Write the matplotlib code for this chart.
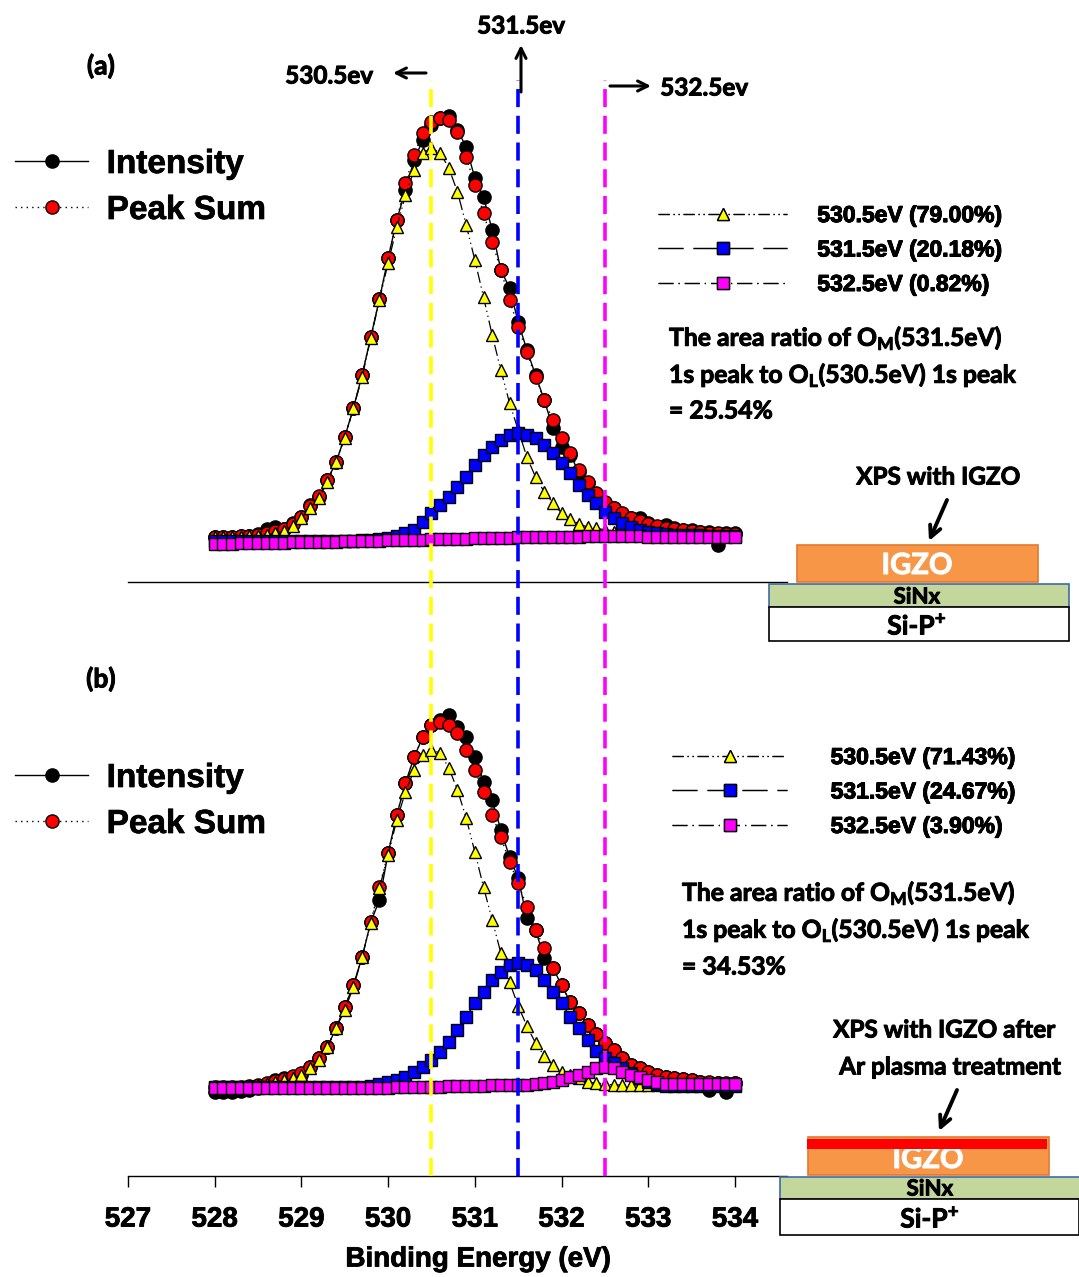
import os
import numpy as np
import matplotlib
matplotlib.use("Agg")
import matplotlib.pyplot as plt
from matplotlib.lines import Line2D
from matplotlib.patches import Rectangle
from matplotlib.font_manager import FontProperties, fontManager
from matplotlib.transforms import blended_transform_factory
import matplotlib.patheffects as pe

# ---------------- data ----------------
energy = np.round(np.linspace(528.0, 534.0, 61), 1)
peak_positions = [530.5, 531.5, 532.5]
peak_colors = ["#FFFF00", "#0000FF", "#FF00FF"]
xticks = [527, 528, 529, 530, 531, 532, 533, 534]

# panel (a): IGZO
int_a = [45, 45, 45, 46, 46, 48, 53, 55, 53, 59, 65, 77, 85, 102, 120, 145, 174, 207, 245, 283,
         324, 362, 392, 422, 442, 457, 464, 466, 452, 435, 404, 385, 352, 312, 294, 260, 232, 207, 182, 154,
         135, 127, 110, 99, 88, 79, 74, 68, 64, 64, 59, 55, 57, 54, 52, 52, 50, 50, 37, 49, 49]
sum_a = [45, 45, 45, 46, 46, 47, 49, 51, 53, 58, 65, 76, 86, 102, 120, 145, 174, 207, 245, 283,
         324, 362, 399, 427, 449, 460, 464, 462, 450, 425, 397, 369, 340, 312, 282, 255, 230, 205, 182, 162,
         144, 129, 112, 100, 89, 80, 74, 69, 64, 61, 58, 56, 54, 53, 52, 51, 50, 49, 49, 48, 48]
yel_a = [45, 45, 45, 45, 46, 46, 47, 49, 51, 56, 64, 74, 84, 100, 120, 144, 174, 205, 244, 282,
         319, 355, 387, 412, 429, 434, 429, 414, 390, 357, 322, 285, 247, 212, 179, 152, 125, 105, 90, 79,
         69, 63, 58, 55, 54, 52, 50, 49, 48, 47, 47, 46, 46, 46, 46, 46, 46, 46, 46, 46, 46]
blu_a = [41, 41, 41, 41, 41, 41, 41, 41, 41, 41, 41, 41, 41, 41, 41, 41, 41, 42, 42, 43,
         44, 46, 49, 52, 60, 69, 77, 85, 95, 105, 117, 127, 135, 142, 147, 149, 147, 144, 137, 129,
         119, 109, 97, 87, 79, 70, 64, 59, 55, 52, 50, 49, 48, 47, 47, 47, 47, 46, 46, 46, 46]
mag_a = [38, 38, 38, 39, 39, 39, 39, 39, 39, 40, 40, 40, 40, 40, 40, 41, 41, 41, 41, 41,
         42, 42, 42, 42, 42, 43, 43, 43, 43, 43, 44, 44, 44, 44, 44, 45, 45, 45, 45, 45,
         45, 45, 45, 46, 46, 46, 46, 46, 46, 46, 45, 45, 45, 45, 45, 45, 45, 45, 45, 45, 45]

# panel (b): IGZO after Ar plasma
int_b = [84, 84, 84, 85, 86, 88, 91, 96, 98, 99, 101, 109, 118, 129, 148, 169, 191, 219, 254, 276,
         323, 361, 393, 419, 439, 451, 456, 461, 449, 439, 419, 394, 376, 346, 319, 298, 258, 246, 218, 208,
         191, 174, 163, 151, 142, 133, 126, 118, 111, 108, 104, 101, 99, 98, 97, 96, 94, 86, 93, 84, 93]
sum_b = [89, 89, 89, 89, 90, 91, 93, 95, 97, 100, 103, 109, 118, 129, 148, 169, 191, 219, 254, 289,
         323, 361, 393, 419, 439, 451, 454, 451, 443, 426, 406, 384, 361, 339, 314, 293, 269, 246, 228, 208,
         191, 174, 163, 151, 142, 133, 126, 118, 111, 108, 104, 101, 99, 98, 97, 96, 94, 94, 93, 93, 93]
yel_b = [89, 89, 89, 89, 90, 91, 92, 94, 96, 98, 101, 108, 116, 129, 148, 166, 189, 219, 253, 288,
         321, 356, 384, 406, 421, 426, 423, 408, 386, 358, 324, 289, 256, 223, 194, 170, 150, 133, 120, 111,
         104, 101, 98, 94, 93, 92, 91, 91, 91, 91, 91, 91, 91, 91, 91, 91, 91, 91, 91, 91, 91]
blu_b = [89, 89, 89, 89, 89, 89, 89, 89, 89, 89, 89, 89, 89, 89, 89, 89, 89, 89, 90, 92,
         94, 96, 99, 104, 109, 116, 124, 134, 146, 159, 173, 184, 196, 204, 211, 213, 211, 206, 196, 184,
         173, 159, 148, 136, 125, 118, 113, 108, 103, 98, 94, 92, 90, 90, 90, 90, 90, 90, 90, 90, 90]
mag_b = [88, 88, 88, 88, 88, 88, 88, 88, 88, 88, 88, 88, 88, 88, 88, 88, 88, 88, 88, 88,
         88, 89, 89, 89, 89, 89, 89, 90, 90, 90, 90, 90, 91, 91, 91, 91, 91, 92, 93, 94,
         96, 99, 101, 104, 108, 109, 108, 104, 101, 99, 96, 94, 92, 92, 92, 92, 92, 92, 92, 92, 92]

labels_a = ["530.5eV (79.00%)", "531.5eV (20.18%)", "532.5eV (0.82%)"]
labels_b = ["530.5eV (71.43%)", "531.5eV (24.67%)", "532.5eV (3.90%)"]
ratio_a = "= 25.54%"
ratio_b = "= 34.53%"


# ---------------- fonts ----------------
def bold_file(*names):
    for n in names:
        for f in fontManager.ttflist:
            base = os.path.basename(f.fname).lower()
            if f.name == n and "bold" in base and not any(
                    k in base for k in ("semi", "extra", "italic", "oblique", "demi")):
                return f.fname
    return None


ARIAL_FILE = bold_file("Liberation Sans")
NARROW_FILE = bold_file("Liberation Sans Narrow") or ARIAL_FILE
CALI_FILE = bold_file("Lato", "Open Sans", "Roboto", "Noto Sans")


def fp(path, s, fam="Liberation Sans"):
    if path:
        return FontProperties(fname=path, size=s)
    return FontProperties(family=fam, weight="bold", size=s)


def narrow(s):
    return fp(NARROW_FILE, s)


def arial(s):
    return fp(ARIAL_FILE, s)


def cal(s):
    return fp(CALI_FILE, s, "Lato")


def heavy(w, color="black"):
    return [pe.withStroke(linewidth=w, foreground=color)]


W, H = 1079, 1277
fig = plt.figure(figsize=(W / 100, H / 100), dpi=100)


def fx(p):
    return p / W


def fy(p):
    return 1 - p / H


axA = fig.add_axes([fx(128), fy(582), 659 / W, (582 - 80) / H])
axB = fig.add_axes([fx(128), fy(1176), 659 / W, (1176 - 690) / H])
axA.set_ylim(0, 502)
axB.set_ylim(0, 486)

for ax in (axA, axB):
    ax.set_xlim(527, 534.6)
    for s in ("top", "left", "right"):
        ax.spines[s].set_visible(False)
    ax.spines["bottom"].set_linewidth(1.0)
    ax.patch.set_alpha(0)
    ax.set_yticks([])

axA.tick_params(bottom=False, labelbottom=False)
axB.set_xticks(xticks)
axB.set_xticklabels([str(t) for t in xticks])
axB.tick_params(axis="x", direction="out", length=8, width=1, pad=14)
for lab in axB.get_xticklabels():
    lab.set_fontproperties(narrow(20))
    lab.set_path_effects(heavy(0.6))
xl = axB.set_xlabel("Binding Energy (eV)", fontproperties=narrow(20))
xl.set_path_effects(heavy(0.6))
axB.xaxis.set_label_coords((478 - 128) / 659, -0.145)

ls_y = (0, (9, 3, 1, 3, 1, 3))
ls_b = (0, (20, 8))
ls_m = (0, (12, 4, 1, 4))


def draw(ax, inten, psum, c1, c2, c3):
    h0, = ax.plot(energy, inten, "-", color="black", lw=1.0, marker="o", ms=9.5,
                  mfc="black", mec="black", zorder=3)
    h1, = ax.plot(energy, psum, ls=(0, (1, 3)), color="black", lw=1.0, marker="o", ms=9.5,
                  mfc="red", mec="black", mew=1, zorder=4)
    h2, = ax.plot(energy, c1, ls=ls_y, color="black", lw=0.9, marker="^", ms=9,
                  mfc=peak_colors[0], mec="black", mew=1, zorder=5)
    h3, = ax.plot(energy, c2, ls=ls_b, color="black", lw=0.9, marker="s", ms=8,
                  mfc=peak_colors[1], mec="black", mew=1, zorder=6)
    h4, = ax.plot(energy, c3, ls=ls_m, color="black", lw=0.9, marker="s", ms=8,
                  mfc=peak_colors[2], mec="black", mew=1, zorder=7)
    return h0, h1, h2, h3, h4


hA = draw(axA, int_a, sum_a, yel_a, blu_a, mag_a)
hB = draw(axB, int_b, sum_b, yel_b, blu_b, mag_b)

for ax, hs, labs, top_main, top_comp, x_comp, tpad in (
        (axA, hA, labels_a, 149, 204, 658, 1.32),
        (axB, hB, labels_b, 763, 746, 672, 1.9)):
    l1 = ax.legend(hs[:2], ["Intensity", "Peak Sum"], loc="upper left",
                   bbox_to_anchor=(fx(15), fy(top_main)), bbox_transform=fig.transFigure,
                   frameon=False, prop=arial(24), handlelength=2.2, handletextpad=0.55,
                   labelspacing=0.45, borderpad=0, borderaxespad=0, numpoints=1)
    for t in l1.get_texts():
        t.set_path_effects(heavy(0.5))
    ax.add_artist(l1)
    hl = (787 - x_comp) / 22.9
    l2 = ax.legend(hs[2:], labs, loc="upper left",
                   bbox_to_anchor=(fx(x_comp), fy(top_comp)), bbox_transform=fig.transFigure,
                   frameon=False, prop=arial(16.5), handlelength=hl, handletextpad=tpad,
                   labelspacing=0.5, borderpad=0, borderaxespad=0, numpoints=1)
    for t in l2.get_texts():
        t.set_path_effects(heavy(0.6))
    ax.add_artist(l2)

# vertical reference lines spanning both panels
tr = blended_transform_factory(axB.transData, fig.transFigure)
for xp, col in zip(peak_positions, peak_colors):
    ln = Line2D([xp, xp], [fy(1176), fy(80)], transform=tr, color=col, lw=2.6,
                ls=(0, (5, 2.4)), clip_on=False, zorder=1)
    fig.add_artist(ln)

# overlay in pixel coordinates for annotations and schematic
ov = fig.add_axes([0, 0, 1, 1], zorder=10)
ov.set_xlim(0, W)
ov.set_ylim(H, 0)
ov.axis("off")
ov.patch.set_alpha(0)


def ctext(x, y, s, size, color="black", ha="center", z=3):
    ov.text(x, y, s, fontproperties=cal(size), color=color, ha=ha, va="center", zorder=z,
            path_effects=heavy(0.7, color))


ctext(101, 66, "(a)", 19)
ctext(101, 679, "(b)", 19)
ctext(329, 76, "530.5ev", 17.5)
ctext(521, 26, "531.5ev", 17.5)
ctext(704, 88, "532.5ev", 17.5)
ap = dict(arrowstyle="->", lw=2.2, color="black", mutation_scale=18, shrinkA=0, shrinkB=0)
ov.annotate("", xy=(393, 73), xytext=(426, 73), arrowprops=ap)
ov.annotate("", xy=(521, 45), xytext=(521, 92), arrowprops=ap)
ov.annotate("", xy=(651, 86), xytext=(610, 86), arrowprops=ap)

for x0, ys, ratio in ((669, (338, 375, 411), ratio_a), (682, (893, 930, 967), ratio_b)):
    ctext(x0, ys[0], "The area ratio of O$_\\mathregular{M}$(531.5eV)", 17.8, ha="left")
    ctext(x0, ys[1], "1s peak to O$_\\mathregular{L}$(530.5eV) 1s peak", 17.8, ha="left")
    ctext(x0, ys[2], ratio, 17.8, ha="left")

# schematic (a)
arr2 = dict(arrowstyle="->", lw=2.8, color="black", mutation_scale=20, shrinkA=0, shrinkB=0)
ctext(938, 477, "XPS with IGZO", 17.5)
ov.annotate("", xy=(929, 541), xytext=(947, 500), arrowprops=arr2)
ov.add_patch(Rectangle((797, 545), 241, 37, fc="#F79646", ec="#E07A30", lw=1.2, zorder=2))
ctext(917, 566, "IGZO", 21, color="white")
ov.add_patch(Rectangle((769, 584), 300, 23, fc="#C3D69B", ec="#3E6BA5", lw=1.2, zorder=2))
ctext(917, 597, "SiNx", 16)
ov.add_patch(Rectangle((769, 607), 300, 34, fc="white", ec="black", lw=1.2, zorder=2))
ctext(917, 625, "Si-P$^\\mathregular{+}$", 19)

# schematic (b)
ctext(944, 1030, "XPS with IGZO after", 17.5)
ctext(950, 1067, "Ar plasma treatment", 17.5)
ov.annotate("", xy=(939, 1131), xytext=(957, 1090), arrowprops=arr2)
ov.add_patch(Rectangle((808, 1137), 241, 38, fc="#F79646", ec="#E07A30", lw=1.2, zorder=2))
ctext(928, 1160, "IGZO", 21, color="white")
ov.add_patch(Rectangle((807, 1139), 240, 10, fc="#FF0000", ec="none", zorder=4))
ov.add_patch(Rectangle((780, 1177), 305, 22, fc="#C3D69B", ec="#3E6BA5", lw=1.2, zorder=2))
ctext(930, 1189, "SiNx", 16)
ov.add_patch(Rectangle((780, 1199), 299, 36, fc="white", ec="black", lw=1.2, zorder=2))
ctext(930, 1218, "Si-P$^\\mathregular{+}$", 19)

fig.savefig("out.png", dpi=100)
